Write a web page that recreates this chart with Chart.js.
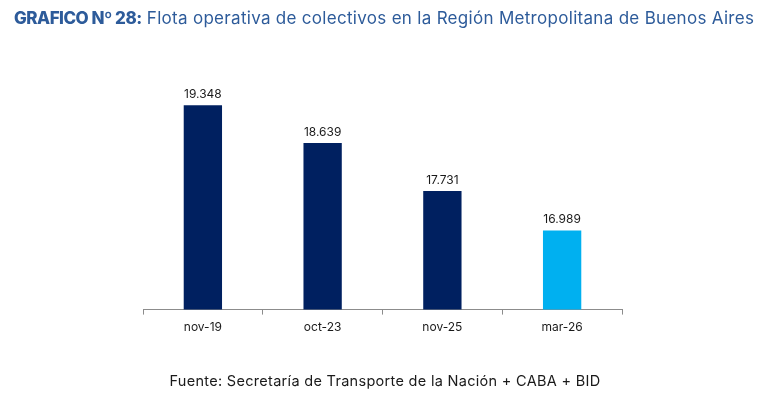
<!DOCTYPE html>
<html>
<head>
<meta charset="utf-8">
<script src="https://cdn.jsdelivr.net/npm/chart.js@4"></script>
<style>
  html, body { margin: 0; padding: 0; background: #fff; }
  body { width: 760px; height: 398px; position: relative; overflow: hidden; font-family: Inter, "Open Sans", sans-serif; }
  #title { position: absolute; left: 14px; top: 8px; font-size: 17px; letter-spacing: 0.3px; color: #2d5b9a; white-space: nowrap; }
  #title b { font-weight: 800; letter-spacing: -0.5px; }
  #source { position: absolute; left: 0; width: 770px; top: 372px; text-align: center; font-size: 14.5px; letter-spacing: 0.3px; color: #1a1a1a; }
  #wrap { position: absolute; left: 0; top: 0; width: 760px; height: 398px; }
</style>
</head>
<body>
<div id="wrap"><canvas id="chart"></canvas></div>
<div id="title"><b>GRAFICO Nº 28:</b> Flota operativa de colectivos en la Región Metropolitana de Buenos Aires</div>
<div id="source">Fuente: Secretaría de Transporte de la Nación + CABA + BID</div>
<script>
  // datos
  const categories = ['nov-19', 'oct-23', 'nov-25', 'mar-26'];
  const fleet = [19348, 18639, 17731, 16989];
  const barColors = ['#002060', '#002060', '#002060', '#00b0f0'];

  const fmt = (v) => v.toLocaleString('es-AR');

  // etiquetas de valor sobre cada barra
  const valueLabels = {
    id: 'valueLabels',
    afterDatasetsDraw(chart) {
      const ctx = chart.ctx;
      const meta = chart.getDatasetMeta(0);
      ctx.save();
      ctx.font = '12px Inter, "Open Sans", sans-serif';
      ctx.fillStyle = '#1a1a1a';
      ctx.textAlign = 'center';
      ctx.textBaseline = 'bottom';
      meta.data.forEach((bar, i) => {
        ctx.fillText(fmt(fleet[i]), bar.x, bar.y - 5);
      });
      ctx.restore();
    }
  };

  new Chart(document.getElementById('chart'), {
    type: 'bar',
    data: {
      labels: categories,
      datasets: [{
        data: fleet,
        backgroundColor: barColors,
        categoryPercentage: 1,
        barPercentage: 0.32
      }]
    },
    options: {
      responsive: true,
      maintainAspectRatio: false,
      animation: false,
      layout: { padding: { left: 143, right: 138, top: 60, bottom: 57 } },
      plugins: { legend: { display: false }, tooltip: { enabled: false } },
      scales: {
        y: { display: false, min: 15500, max: 20200 },
        x: {
          border: { display: true, color: '#8c8c8c', width: 1 },
          grid: { display: true, drawOnChartArea: false, drawTicks: true, tickLength: 5, color: '#8c8c8c', offset: true },
          ticks: { color: '#1a1a1a', padding: 6, font: { family: 'Inter, "Open Sans", sans-serif', size: 12 } }
        }
      }
    },
    plugins: [valueLabels]
  });
</script>
</body>
</html>
